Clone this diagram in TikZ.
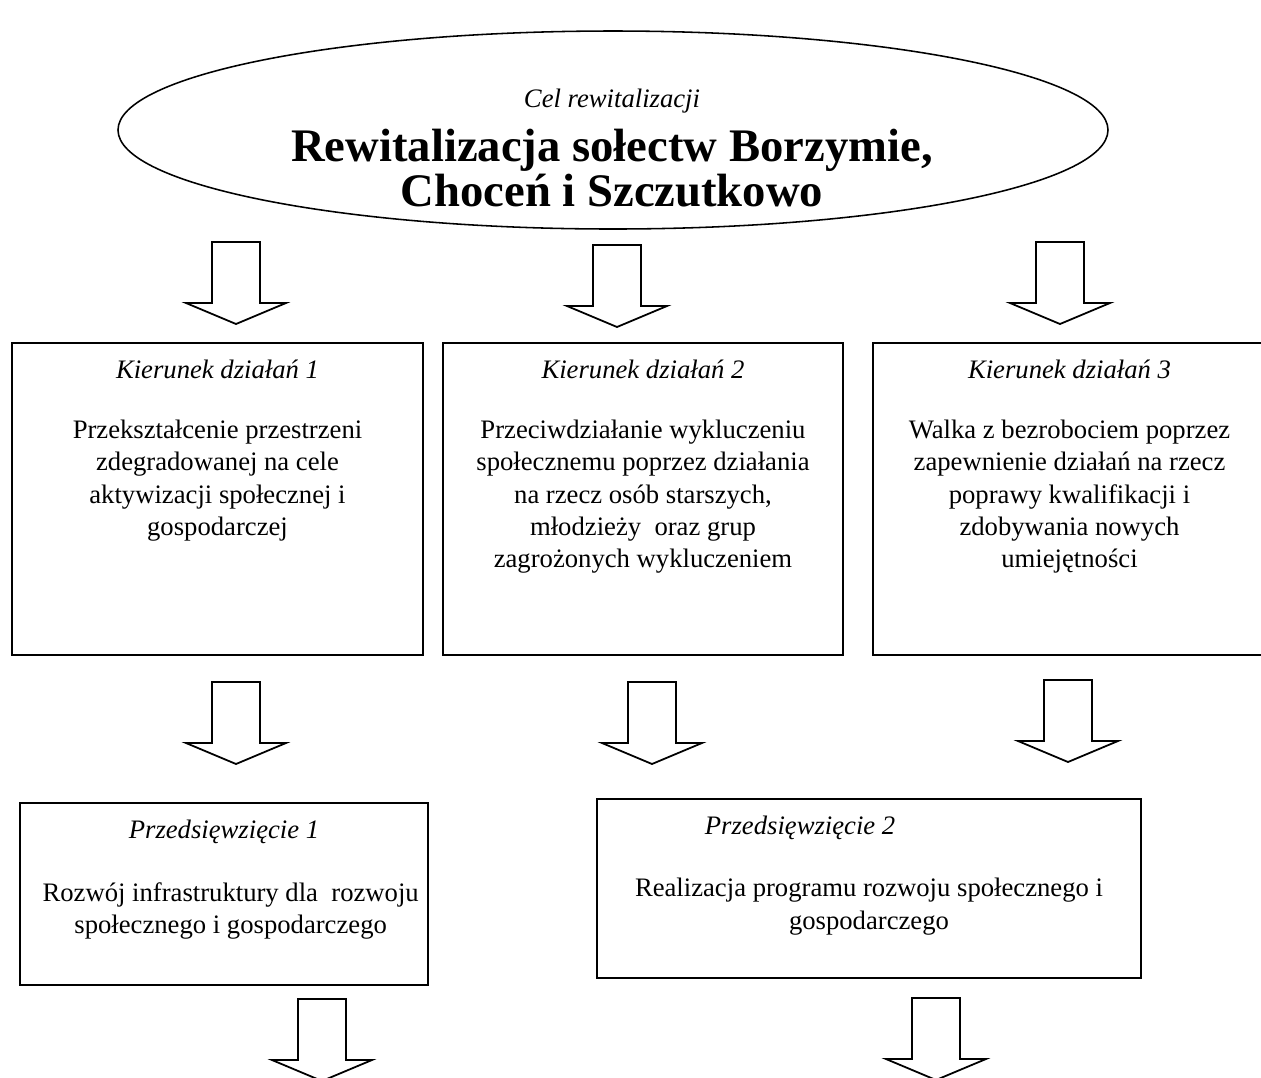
\documentclass[tikz,border=0pt]{standalone}
\usepackage{fontspec}
\setmainfont{Liberation Serif}
\usetikzlibrary{shapes.geometric, positioning}
\newlength{\px}
\setlength{\px}{0.45pt}

\begin{document}
\begin{tikzpicture}[x=\px, y=-\px,
        box/.style={draw, line width=0.9pt, inner sep=0pt},
        ttl/.style={anchor=north, inner sep=0pt, font=\itshape\fontsize{12}{14.5}\selectfont},
        txt/.style={anchor=north, align=center, inner sep=0pt, font=\fontsize{12}{14.5}\selectfont},
        blockarrow/.pic={\draw[line width=0.8pt, line join=miter] (-24,0) -- (24,0) -- (24,61) -- (50,61) -- (0,82) -- (-50,61) -- (-24,61) -- cycle;}]
            \useasboundingbox (0,0) rectangle (1261,1077);
            \clip (0,0) rectangle (1261,1077);
            % cel rewitalizacji
            \node[draw, ellipse, line width=0.7pt, inner sep=0pt, minimum width=990\px, minimum height=198\px] (cel) at (613,130) {};
            \node[font=\itshape\fontsize{12}{14.5}\selectfont] (celname) at (612,101) {Cel rewitalizacji};
            \node[align=center, font=\bfseries\fontsize{21}{20.5}\selectfont] (goal) at (612,168) {Rewitalizacja sołectw Borzymie,\\Choceń i Szczutkowo};
            \pic (a1) at (236,242) {blockarrow};
            \pic (a2) at (617,245) {blockarrow};
            \pic (a3) at (1060,242) {blockarrow};
            % kierunki dzialan
            \node[box, minimum width=411\px, minimum height=312\px] (k1) at (217.5,499) {};
            \node[box, minimum width=400\px, minimum height=312\px] (k2) at (643,499) {};
            \node[box, minimum width=393\px, minimum height=312\px] (k3) at (1069.5,499) {};
            \node[ttl, below=8pt of k1.north] (k1ttl) {Kierunek działań 1};
            \node[ttl, below=8pt of k2.north] (k2ttl) {Kierunek działań 2};
            \node[ttl, below=8pt of k3.north] (k3ttl) {Kierunek działań 3};
            \node[txt, below=35pt of k1.north] (k1txt) {Przekształcenie przestrzeni\\zdegradowanej na cele\\aktywizacji społecznej i\\gospodarczej};
            \node[txt, below=35pt of k2.north] (k2txt) {Przeciwdziałanie wykluczeniu\\społecznemu poprzez działania\\na rzecz osób starszych,\\młodzieży\ \ oraz grup\\zagrożonych wykluczeniem};
            \node[txt, below=35pt of k3.north] (k3txt) {Walka z bezrobociem poprzez\\zapewnienie działań na rzecz\\poprawy kwalifikacji i\\zdobywania nowych\\umiejętności};
            \pic (b1) at (236,682) {blockarrow};
            \pic (b2) at (652,682) {blockarrow};
            \pic (b3) at (1068,680) {blockarrow};
            % przedsiewziecia
            \node[box, minimum width=408\px, minimum height=182\px] (p1) at (224,894) {};
            \node[box, minimum width=544\px, minimum height=179\px] (p2) at (869,888.5) {};
            \node[ttl, below=8pt of p1.north] (p1ttl) {Przedsięwzięcie 1};
            \node[ttl, below=8pt of p2.north, xshift=-31pt] (p2ttl) {Przedsięwzięcie 2};
            \node[txt, below=36pt of p1.north, xshift=3pt] (p1txt) {Rozwój infrastruktury dla\ \ rozwoju\\społecznego i gospodarczego};
            \node[txt, below=36pt of p2.north] (p2txt) {Realizacja programu rozwoju społecznego i\\gospodarczego};
            \pic (c1) at (322,999) {blockarrow};
            \pic (c2) at (936,998) {blockarrow};
\end{tikzpicture}
\end{document}
